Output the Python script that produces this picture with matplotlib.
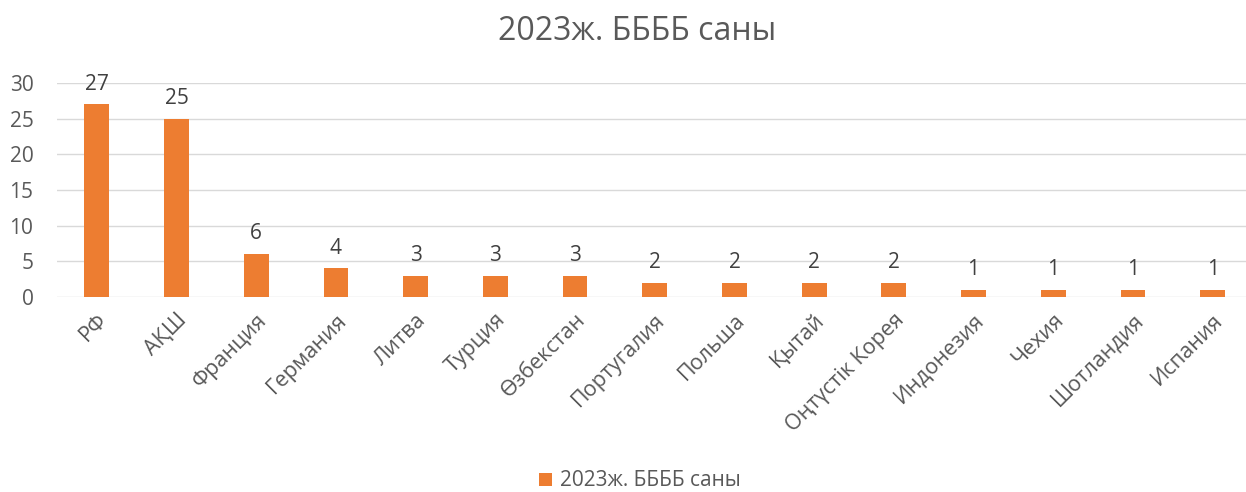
import matplotlib
matplotlib.use("Agg")
import matplotlib.pyplot as plt

# --- data ---
countries = ["РФ", "АҚШ", "Франция", "Германия", "Литва", "Турция", "Өзбекстан",
             "Португалия", "Польша", "Қытай", "Оңтүстік Корея", "Индонезия",
             "Чехия", "Шотландия", "Испания"]
counts = [27, 25, 6, 4, 3, 3, 3, 2, 2, 2, 2, 1, 1, 1, 1]
series_name = "2023ж. ББББ саны"

plt.rcParams['font.family'] = ['Open Sans', 'Noto Sans', 'DejaVu Sans']
text_color = '#595959'
bar_color = '#ED7D31'

fig = plt.figure(figsize=(12.46, 4.92), dpi=100)
ax = fig.add_axes([57 / 1246, 1 - 297 / 492, 1 - 57 / 1246, (297 - 83) / 492])

x = list(range(len(countries)))
bars = ax.bar(x, counts, width=0.31, color=bar_color, label=series_name, zorder=3)

for xi, v in zip(x, counts):
    ax.annotate(str(v), (xi, v), xytext=(0, 7), textcoords='offset points',
                ha='center', va='bottom', fontsize=15, color='#404040')

ax.set_ylim(0, 30)
ax.set_xlim(-0.5, -0.5 + 1189 / 79.7)
ax.set_yticks(range(0, 31, 5))
ax.yaxis.grid(True, color='#D9D9D9', linewidth=1, zorder=0)
ax.set_xticks(x)
ax.set_xticklabels(countries, rotation=45, ha='right', rotation_mode='anchor')
ax.tick_params(axis='both', length=0, labelsize=15, colors=text_color)
ax.tick_params(axis='x', labelsize=15.5, pad=9)
ax.tick_params(axis='y', pad=17)
for s in ax.spines.values():
    s.set_visible(False)

fig.text(637 / 1246, 1 - 32 / 492, series_name, ha='center', va='center',
         fontsize=23, color=text_color)

fig.legend(handles=[bars], labels=[series_name], loc='center',
           bbox_to_anchor=(640 / 1246, 1 - 481 / 492), frameon=False,
           fontsize=15, labelcolor=text_color, handlelength=0.6,
           handleheight=0.6, handletextpad=0.4)

fig.savefig("out.png", dpi=100)
